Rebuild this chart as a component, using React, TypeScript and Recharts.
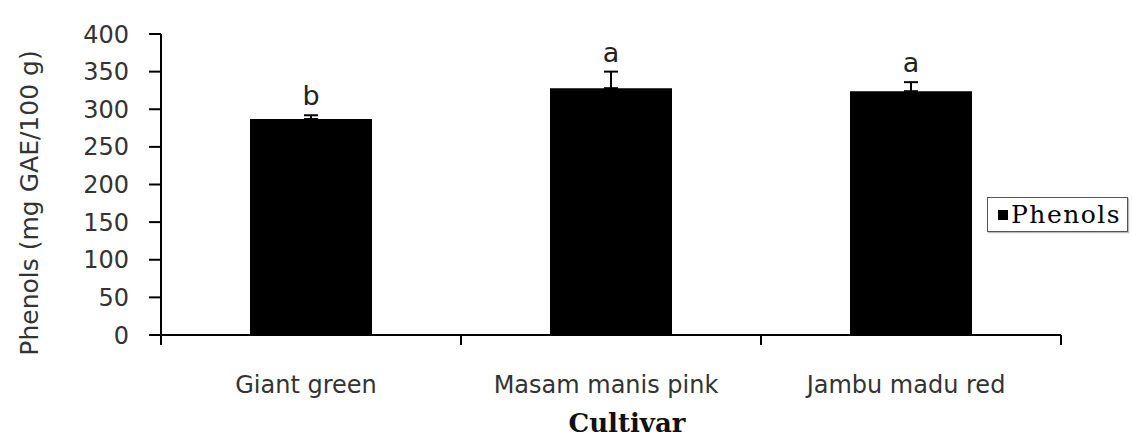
import { Bar, BarChart, ErrorBar, Label, LabelList, Legend, XAxis, YAxis } from "recharts";

const cultivars = ["Giant green", "Masam manis pink", "Jambu madu red"];
const phenols = [287, 328, 324];
const phenolsErr = [5, 22, 12];
const letters = ["b", "a", "a"];
const yTicks = [0, 50, 100, 150, 200, 250, 300, 350, 400];

const data = cultivars.map((name, i) => ({
  name,
  phenols: phenols[i],
  err: [0, phenolsErr[i]],
  letter: letters[i],
}));

const SANS = "'DejaVu Sans', Verdana, sans-serif";
const SERIF = "'DejaVu Serif', 'Liberation Serif', serif";
const X_TICK = 10;

function CultivarTick(props: any) {
  const { x, y, payload, index, visibleTicksCount, width } = props;
  const half = payload?.offset || width / visibleTicksCount / 2;
  const last = index === visibleTicksCount - 1;
  return (
    <g>
      <line x1={x - half} x2={x - half} y1={y - X_TICK} y2={y} stroke="#000" strokeWidth={2} />
      {last && <line x1={x + half} x2={x + half} y1={y - X_TICK} y2={y} stroke="#000" strokeWidth={2} />}
      <text x={x - 5} y={y + 48} textAnchor="middle" fontFamily={SANS} fontSize={24} fill="#333">
        {payload.value}
      </text>
    </g>
  );
}

function LetterLabel(props: any) {
  const { x, y, width, height, value, index } = props;
  const pxPerUnit = height / phenols[index];
  const top = y - phenolsErr[index] * pxPerUnit;
  return (
    <text x={x + width / 2} y={top - 10} textAnchor="middle" fontFamily={SANS} fontSize={27} fill="#222">
      {value}
    </text>
  );
}

function PhenolsLegend({ payload }: any) {
  return (
    <div
      style={{
        border: "1.5px solid #555",
        boxShadow: "1px 1px 1px #bbb",
        padding: "2px 6px 2px 10px",
        background: "#fff",
        display: "flex",
        alignItems: "center",
      }}
    >
      {(payload || []).map((entry: any) => (
        <span key={entry.value} style={{ display: "flex", alignItems: "center" }}>
          <span style={{ width: 10, height: 10, background: "#000", marginRight: 3 }} />
          <span style={{ fontFamily: SERIF, fontSize: 25, letterSpacing: 1.5, color: "#000" }}>{entry.value}</span>
        </span>
      ))}
    </div>
  );
}

export default function App() {
  return (
    <div style={{ position: "absolute", left: 0, top: 0, background: "#fff" }}>
      <BarChart width={1132} height={443} data={data} margin={{ top: 34, right: 71, bottom: 0, left: 0 }}>
        <XAxis
          dataKey="name"
          height={108}
          axisLine={{ stroke: "#000", strokeWidth: 2 }}
          tickLine={false}
          tickSize={X_TICK}
          tickMargin={0}
          interval={0}
          tick={<CultivarTick />}
        >
          <Label
            value="Cultivar"
            position="insideBottom"
            offset={11}
            dx={16}
            style={{ fontFamily: SERIF, fontSize: 26, fontWeight: "bold", fill: "#111" }}
          />
        </XAxis>
        <YAxis
          width={161}
          domain={[0, 400]}
          ticks={yTicks}
          interval={0}
          axisLine={{ stroke: "#000", strokeWidth: 2 }}
          tickLine={{ stroke: "#000", strokeWidth: 2 }}
          tickSize={12}
          tickMargin={20}
          tick={{ fontFamily: SANS, fontSize: 24, fill: "#333" }}
        >
          <Label
            content={() => (
              <text
                x={29}
                y={203}
                transform="rotate(-90, 29, 203)"
                textAnchor="middle"
                dominantBaseline="central"
                fontFamily={SANS}
                fontSize={25}
                fill="#333"
              >
                Phenols (mg GAE/100 g)
              </text>
            )}
          />
        </YAxis>
        <Legend
          layout="horizontal"
          verticalAlign="middle"
          align="center"
          wrapperStyle={{ left: 987, top: 197, right: "auto", width: "auto" }}
          content={<PhenolsLegend />}
        />
        <Bar dataKey="phenols" name="Phenols" fill="#000" barSize={122} isAnimationActive={false}>
          <ErrorBar dataKey="err" direction="y" width={7} stroke="#000" strokeWidth={2} isAnimationActive={false} />
          <LabelList dataKey="letter" content={<LetterLabel />} />
        </Bar>
      </BarChart>
    </div>
  );
}
